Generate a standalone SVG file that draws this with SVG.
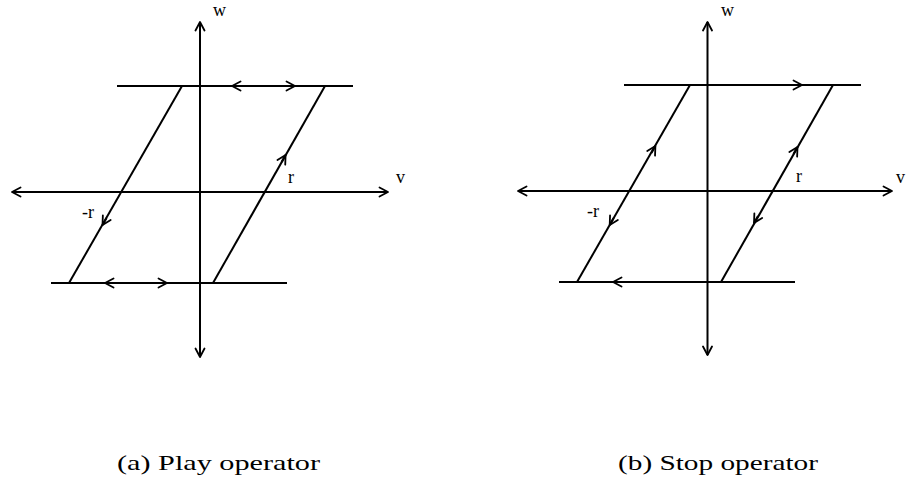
<svg xmlns="http://www.w3.org/2000/svg" width="906" height="484" viewBox="0 0 906 484">
<style>
.ln{stroke:#000;stroke-width:2;fill:none;stroke-linecap:butt}
.ar{stroke:#000;stroke-width:2;fill:none;marker-end:url(#chev)}
.ax{stroke:#000;stroke-width:2;fill:none;marker-start:url(#chevs);marker-end:url(#chev)}
.lb{font-family:"Liberation Serif","Times New Roman",serif;font-size:18px;fill:#000}
.cap{font-family:"Liberation Serif","Times New Roman",serif;font-size:22px;fill:#000}
</style>
<defs>
<marker id="chev" markerUnits="userSpaceOnUse" viewBox="0 0 12 12" refX="10.5" refY="6" markerWidth="12" markerHeight="12" orient="auto">
<path d="M2,1.5 L10.5,6 L2,10.5" fill="none" stroke="#000" stroke-width="1.8" stroke-linejoin="round" stroke-linecap="round"/>
</marker>
<marker id="chevs" markerUnits="userSpaceOnUse" viewBox="0 0 12 12" refX="10.5" refY="6" markerWidth="12" markerHeight="12" orient="auto-start-reverse">
<path d="M2,1.5 L10.5,6 L2,10.5" fill="none" stroke="#000" stroke-width="1.8" stroke-linejoin="round" stroke-linecap="round"/>
</marker>
</defs>

<g id="play">
<g id="play-axes">
<path class="ax" d="M12,192 L388,192"/>
<path class="ax" d="M200,357 L200,22"/>
</g>
<g id="play-loop">
<path class="ln" d="M117,86 L353,86"/>
<path class="ln" d="M51,283 L287,283"/>
<path class="ln" d="M182,86 L69,283"/>
<path class="ln" d="M325,86 L213,283"/>
</g>
<g id="play-arrows">
<path class="ar" d="M260,86 L232,86"/>
<path class="ar" d="M267,86 L295,86"/>
<path class="ar" d="M133,283 L105,283"/>
<path class="ar" d="M139,283 L167,283"/>
<path class="ar" d="M106.5,218.1 L102.5,225"/>
<path class="ar" d="M281.6,161.9 L285.6,155"/>
</g>
<g id="play-labels">
<text class="lb" x="213" y="16">w</text>
<text class="lb" x="396" y="183">v</text>
<text class="lb" x="288" y="183">r</text>
<text class="lb" x="82" y="218">-r</text>
</g>
<text id="cap-a" class="cap" x="117" y="470" textLength="203" lengthAdjust="spacingAndGlyphs">(a) Play operator</text>
</g>

<g id="stop">
<g id="stop-axes">
<path class="ax" d="M518,191 L892,191"/>
<path class="ax" d="M707.5,355 L707.5,22"/>
</g>
<g id="stop-loop">
<path class="ln" d="M624,85 L861,85"/>
<path class="ln" d="M559,282 L795,282"/>
<path class="ln" d="M690,85 L577,282"/>
<path class="ln" d="M833,85 L721,282"/>
</g>
<g id="stop-arrows">
<path class="ar" d="M774,85 L802,85"/>
<path class="ar" d="M641,282 L613,282"/>
<path class="ar" d="M651.4,152.9 L655.4,146"/>
<path class="ar" d="M613.7,218.1 L609.7,225"/>
<path class="ar" d="M793.5,153.9 L797.5,147"/>
<path class="ar" d="M758,216.1 L754,223"/>
</g>
<g id="stop-labels">
<text class="lb" x="721" y="16">w</text>
<text class="lb" x="896" y="183">v</text>
<text class="lb" x="796" y="182">r</text>
<text class="lb" x="587" y="217">-r</text>
</g>
<text id="cap-b" class="cap" x="618" y="470" textLength="200" lengthAdjust="spacingAndGlyphs">(b) Stop operator</text>
</g>
</svg>
